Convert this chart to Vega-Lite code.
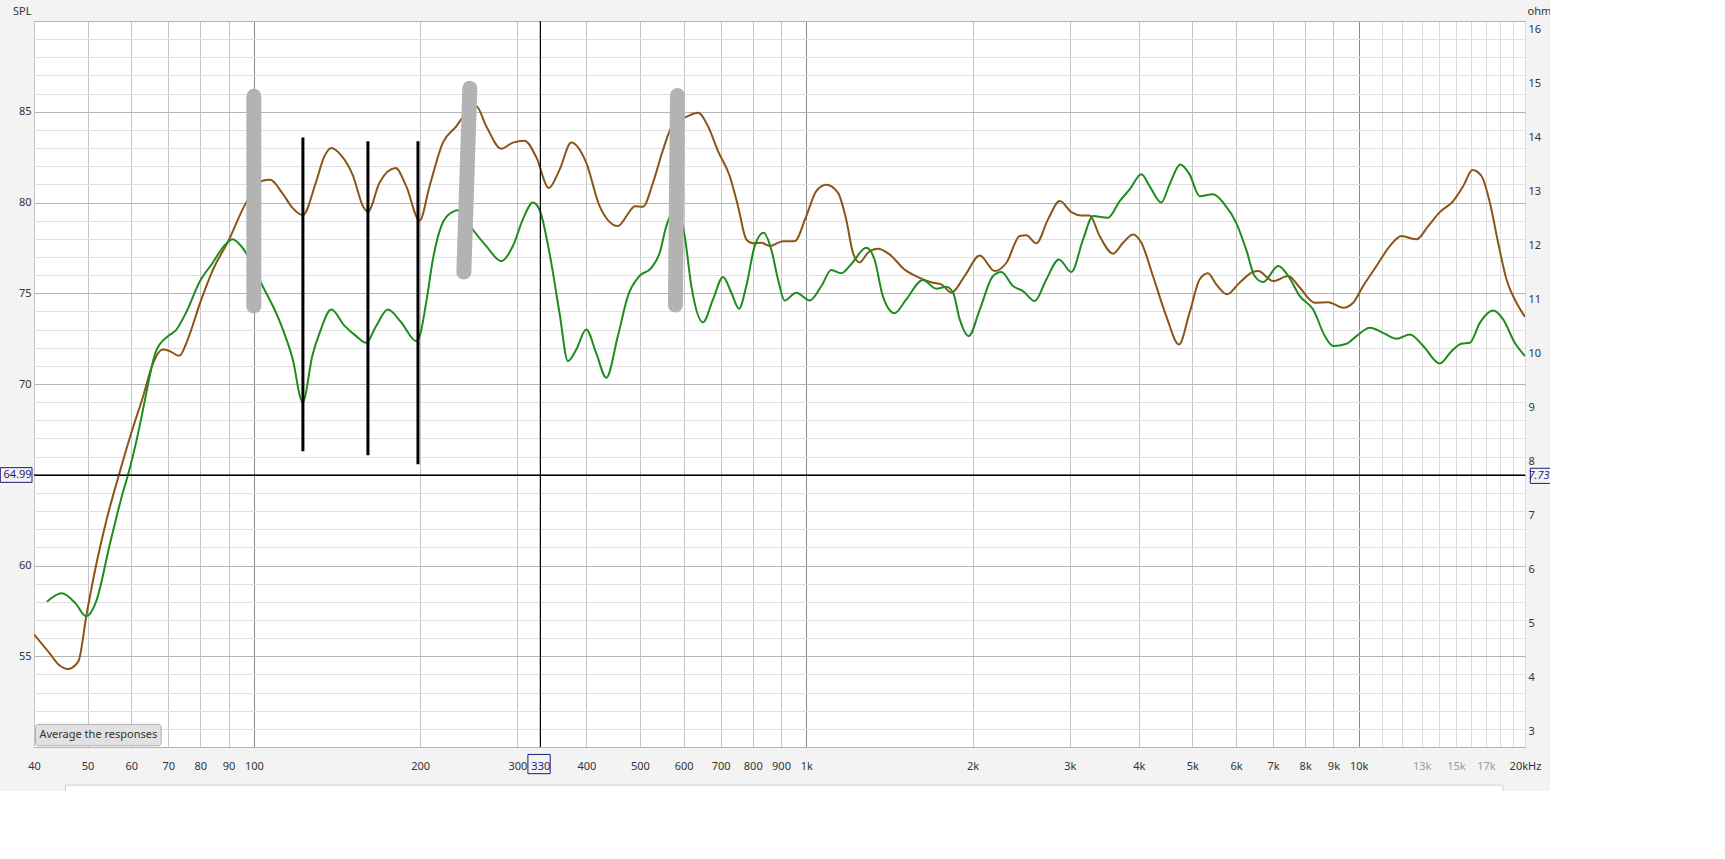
{
  "$schema": "https://vega.github.io/schema/vega-lite/v6.json",
  "width": 1491,
  "height": 726,
  "autosize": {"type": "none"},
  "padding": {"left": 34, "top": 21, "right": 25, "bottom": 44},
  "background": "#f3f3f3",
  "config": {
    "font": "Noto Sans",
    "view": {"stroke": "#a0a0a0", "fill": "#ffffff"},
    "axis": {"labelFont": "Noto Sans", "labelFontSize": 11, "labelColor": "#333333", "titleFont": "Noto Sans", "titleFontSize": 11, "titleFontWeight": "normal", "titleColor": "#333333", "ticks": false, "tickSize": 0, "domain": false}
  },
  "datasets": {
    "curves": [
      {"series":"A","f":40,"spl":56.2},{"series":"A","f":42.6,"spl":55.2},{"series":"A","f":44.3,"spl":54.55},{"series":"A","f":46.1,"spl":54.3},{"series":"A","f":48.1,"spl":54.7},{"series":"A","f":49.8,"spl":57.3},{"series":"A","f":51.8,"spl":60.0},{"series":"A","f":54.0,"spl":62.4},{"series":"A","f":57.0,"spl":65.0},{"series":"A","f":60.0,"spl":67.3},{"series":"A","f":63.0,"spl":69.3},{"series":"A","f":65.6,"spl":71.1},{"series":"A","f":68.4,"spl":71.9},{"series":"A","f":70.0,"spl":71.85},{"series":"A","f":73.3,"spl":71.55},{"series":"A","f":75.9,"spl":72.45},{"series":"A","f":80,"spl":74.5},{"series":"A","f":84.2,"spl":76.25},{"series":"A","f":90,"spl":77.9},{"series":"A","f":96.1,"spl":79.8},{"series":"A","f":103.7,"spl":81.2},{"series":"A","f":107,"spl":81.25},{"series":"A","f":112.7,"spl":80.5},{"series":"A","f":117.5,"spl":79.7},{"series":"A","f":122.6,"spl":79.3},{"series":"A","f":129.5,"spl":81.1},{"series":"A","f":134,"spl":82.5},{"series":"A","f":138.1,"spl":83.0},{"series":"A","f":143.9,"spl":82.6},{"series":"A","f":151.1,"spl":81.5},{"series":"A","f":157.6,"spl":79.8},{"series":"A","f":160.9,"spl":79.5},{"series":"A","f":168.9,"spl":81.1},{"series":"A","f":180.6,"spl":81.9},{"series":"A","f":188.7,"spl":80.9},{"series":"A","f":199.6,"spl":79.0},{"series":"A","f":208,"spl":80.9},{"series":"A","f":219.9,"spl":83.3},{"series":"A","f":232.5,"spl":84.2},{"series":"A","f":242.4,"spl":84.95},{"series":"A","f":252.7,"spl":85.3},{"series":"A","f":263.5,"spl":84.2},{"series":"A","f":280.5,"spl":82.96},{"series":"A","f":294.4,"spl":83.3},{"series":"A","f":309,"spl":83.4},{"series":"A","f":324.5,"spl":82.5},{"series":"A","f":342,"spl":80.8},{"series":"A","f":357.6,"spl":81.8},{"series":"A","f":375.5,"spl":83.3},{"series":"A","f":399.6,"spl":82.2},{"series":"A","f":422.6,"spl":79.8},{"series":"A","f":456,"spl":78.7},{"series":"A","f":478.8,"spl":79.5},{"series":"A","f":489,"spl":79.8},{"series":"A","f":506.3,"spl":79.77},{"series":"A","f":528,"spl":81.1},{"series":"A","f":550.4,"spl":82.9},{"series":"A","f":573.8,"spl":84.3},{"series":"A","f":606.6,"spl":84.72},{"series":"A","f":636.8,"spl":84.94},{"series":"A","f":663.9,"spl":84.2},{"series":"A","f":692.2,"spl":82.83},{"series":"A","f":726.7,"spl":81.46},{"series":"A","f":752.4,"spl":79.8},{"series":"A","f":778.9,"spl":77.97},{"series":"A","f":800.8,"spl":77.75},{"series":"A","f":829.2,"spl":77.78},{"series":"A","f":858.6,"spl":77.6},{"series":"A","f":907.6,"spl":77.87},{"series":"A","f":952.5,"spl":77.87},{"series":"A","f":1000,"spl":79.25},{"series":"A","f":1042.6,"spl":80.63},{"series":"A","f":1087,"spl":80.98},{"series":"A","f":1141,"spl":80.54},{"series":"A","f":1181,"spl":79.07},{"series":"A","f":1215,"spl":77.23},{"series":"A","f":1249,"spl":76.7},{"series":"A","f":1293,"spl":77.23},{"series":"A","f":1348,"spl":77.45},{"series":"A","f":1415,"spl":77.14},{"series":"A","f":1507,"spl":76.3},{"series":"A","f":1604,"spl":75.85},{"series":"A","f":1696,"spl":75.58},{"series":"A","f":1756,"spl":75.49},{"series":"A","f":1831,"spl":75.03},{"series":"A","f":1935,"spl":75.95},{"series":"A","f":2061,"spl":77.08},{"series":"A","f":2193,"spl":76.22},{"series":"A","f":2303,"spl":76.68},{"series":"A","f":2434,"spl":78.15},{"series":"A","f":2502,"spl":78.19},{"series":"A","f":2609,"spl":77.75},{"series":"A","f":2739,"spl":79.07},{"series":"A","f":2876,"spl":80.08},{"series":"A","f":3019,"spl":79.47},{"series":"A","f":3148,"spl":79.29},{"series":"A","f":3258,"spl":79.29},{"series":"A","f":3397,"spl":78.15},{"series":"A","f":3592,"spl":77.18},{"series":"A","f":3745,"spl":77.78},{"series":"A","f":3904,"spl":78.24},{"series":"A","f":4042,"spl":77.78},{"series":"A","f":4242,"spl":75.95},{"series":"A","f":4484,"spl":73.74},{"series":"A","f":4727,"spl":72.18},{"series":"A","f":4942,"spl":73.93},{"series":"A","f":5152,"spl":75.76},{"series":"A","f":5334,"spl":76.1},{"series":"A","f":5523,"spl":75.49},{"series":"A","f":5774,"spl":74.94},{"series":"A","f":6086,"spl":75.58},{"series":"A","f":6434,"spl":76.17},{"series":"A","f":6577,"spl":76.22},{"series":"A","f":7000,"spl":75.67},{"series":"A","f":7454,"spl":75.95},{"series":"A","f":7824,"spl":75.3},{"series":"A","f":8329,"spl":74.48},{"series":"A","f":8805,"spl":74.51},{"series":"A","f":9374,"spl":74.2},{"series":"A","f":9772,"spl":74.48},{"series":"A","f":10188,"spl":75.4},{"series":"A","f":10770,"spl":76.5},{"series":"A","f":11386,"spl":77.6},{"series":"A","f":11954,"spl":78.15},{"series":"A","f":12725,"spl":77.97},{"series":"A","f":13358,"spl":78.7},{"series":"A","f":14023,"spl":79.47},{"series":"A","f":14825,"spl":80.08},{"series":"A","f":15455,"spl":80.9},{"series":"A","f":16069,"spl":81.79},{"series":"A","f":16683,"spl":81.46},{"series":"A","f":17273,"spl":80.0},{"series":"A","f":17883,"spl":77.78},{"series":"A","f":18515,"spl":75.76},{"series":"A","f":19302,"spl":74.48},{"series":"A","f":20000,"spl":73.7},
      {"series":"B","f":42.2,"spl":58.0},{"series":"B","f":44.9,"spl":58.47},{"series":"B","f":47.6,"spl":57.9},{"series":"B","f":49.7,"spl":57.2},{"series":"B","f":51.8,"spl":58.0},{"series":"B","f":54.9,"spl":61.2},{"series":"B","f":57.9,"spl":64.0},{"series":"B","f":59.2,"spl":65.0},{"series":"B","f":62.1,"spl":67.65},{"series":"B","f":63.2,"spl":68.8},{"series":"B","f":66.5,"spl":71.8},{"series":"B","f":70.0,"spl":72.65},{"series":"B","f":72.3,"spl":72.97},{"series":"B","f":75.3,"spl":73.9},{"series":"B","f":80,"spl":75.7},{"series":"B","f":84.2,"spl":76.67},{"series":"B","f":87.8,"spl":77.5},{"series":"B","f":91.5,"spl":77.97},{"series":"B","f":95.4,"spl":77.5},{"series":"B","f":103.7,"spl":75.4},{"series":"B","f":111.2,"spl":73.5},{"series":"B","f":117.5,"spl":71.4},{"series":"B","f":122.6,"spl":69.0},{"series":"B","f":127.7,"spl":71.6},{"series":"B","f":131.5,"spl":72.8},{"series":"B","f":138.1,"spl":74.1},{"series":"B","f":146,"spl":73.2},{"series":"B","f":153.2,"spl":72.64},{"series":"B","f":159.7,"spl":72.27},{"series":"B","f":166.5,"spl":73.2},{"series":"B","f":174.8,"spl":74.1},{"series":"B","f":184.8,"spl":73.4},{"series":"B","f":196.8,"spl":72.36},{"series":"B","f":199.6,"spl":72.64},{"series":"B","f":205.1,"spl":74.48},{"series":"B","f":210.9,"spl":76.86},{"series":"B","f":218.4,"spl":78.7},{"series":"B","f":227.7,"spl":79.44},{"series":"B","f":235.7,"spl":79.58},{"series":"B","f":249.2,"spl":78.5},{"series":"B","f":263.5,"spl":77.6},{"series":"B","f":280.5,"spl":76.77},{"series":"B","f":294.4,"spl":77.6},{"series":"B","f":306.9,"spl":79.07},{"series":"B","f":320,"spl":80.0},{"series":"B","f":329,"spl":79.6},{"series":"B","f":343,"spl":77.2},{"series":"B","f":357.6,"spl":73.9},{"series":"B","f":370.3,"spl":71.26},{"series":"B","f":383.4,"spl":71.9},{"series":"B","f":399.6,"spl":73.0},{"series":"B","f":416.7,"spl":71.7},{"series":"B","f":434.5,"spl":70.34},{"series":"B","f":456,"spl":72.64},{"series":"B","f":475.4,"spl":74.84},{"series":"B","f":499,"spl":75.95},{"series":"B","f":524.3,"spl":76.4},{"series":"B","f":542.8,"spl":77.23},{"series":"B","f":558,"spl":78.7},{"series":"B","f":569.8,"spl":79.4},{"series":"B","f":580,"spl":79.7},{"series":"B","f":602.4,"spl":78.15},{"series":"B","f":619.4,"spl":75.4},{"series":"B","f":650.2,"spl":73.4},{"series":"B","f":677.9,"spl":74.66},{"series":"B","f":706.8,"spl":75.9},{"series":"B","f":731.8,"spl":75.03},{"series":"B","f":755.5,"spl":74.15},{"series":"B","f":778.9,"spl":75.4},{"series":"B","f":806.4,"spl":77.6},{"series":"B","f":837.2,"spl":78.33},{"series":"B","f":864.4,"spl":77.4},{"series":"B","f":888.8,"spl":75.77},{"series":"B","f":913.7,"spl":74.6},{"series":"B","f":959.2,"spl":75.03},{"series":"B","f":1014,"spl":74.6},{"series":"B","f":1065,"spl":75.4},{"series":"B","f":1110,"spl":76.28},{"series":"B","f":1157,"spl":76.1},{"series":"B","f":1206,"spl":76.6},{"series":"B","f":1284,"spl":77.5},{"series":"B","f":1329,"spl":76.86},{"series":"B","f":1376,"spl":74.84},{"series":"B","f":1445,"spl":73.9},{"series":"B","f":1517,"spl":74.66},{"series":"B","f":1626,"spl":75.73},{"series":"B","f":1719,"spl":75.25},{"series":"B","f":1793,"spl":75.36},{"series":"B","f":1844,"spl":75.03},{"series":"B","f":1896,"spl":73.56},{"series":"B","f":1968,"spl":72.64},{"series":"B","f":2061,"spl":74.1},{"series":"B","f":2178,"spl":75.95},{"series":"B","f":2255,"spl":76.17},{"series":"B","f":2367,"spl":75.4},{"series":"B","f":2468,"spl":75.12},{"series":"B","f":2591,"spl":74.57},{"series":"B","f":2720,"spl":75.76},{"series":"B","f":2867,"spl":76.86},{"series":"B","f":3019,"spl":76.17},{"series":"B","f":3170,"spl":77.97},{"series":"B","f":3304,"spl":79.25},{"series":"B","f":3517,"spl":79.16},{"series":"B","f":3693,"spl":80.08},{"series":"B","f":3850,"spl":80.72},{"series":"B","f":4042,"spl":81.55},{"series":"B","f":4183,"spl":80.9},{"series":"B","f":4392,"spl":80.0},{"series":"B","f":4547,"spl":81.0},{"series":"B","f":4753,"spl":82.1},{"series":"B","f":4942,"spl":81.55},{"series":"B","f":5152,"spl":80.35},{"series":"B","f":5445,"spl":80.45},{"series":"B","f":5717,"spl":79.9},{"series":"B","f":6002,"spl":78.88},{"series":"B","f":6258,"spl":77.4},{"series":"B","f":6480,"spl":75.95},{"series":"B","f":6716,"spl":75.62},{"series":"B","f":7153,"spl":76.5},{"series":"B","f":7454,"spl":75.95},{"series":"B","f":7824,"spl":74.84},{"series":"B","f":8272,"spl":74.1},{"series":"B","f":8685,"spl":72.64},{"series":"B","f":8992,"spl":72.09},{"series":"B","f":9506,"spl":72.22},{"series":"B","f":9909,"spl":72.64},{"series":"B","f":10476,"spl":73.1},{"series":"B","f":11074,"spl":72.82},{"series":"B","f":11706,"spl":72.5},{"series":"B","f":12379,"spl":72.73},{"series":"B","f":13086,"spl":72.09},{"series":"B","f":14023,"spl":71.13},{"series":"B","f":14722,"spl":71.81},{"series":"B","f":15348,"spl":72.22},{"series":"B","f":15892,"spl":72.27},{"series":"B","f":16568,"spl":73.37},{"series":"B","f":17511,"spl":74.05},{"series":"B","f":18257,"spl":73.56},{"series":"B","f":19165,"spl":72.27},{"series":"B","f":20000,"spl":71.54}
    ],
    "cursor": [
      {"f": 330, "spl": 64.99}
    ],
    "highlights": [
      {"f1": 100, "f2": 100, "d1": 85.85, "d2": 74.3},
      {"f1": 246, "f2": 240, "d1": 86.3, "d2": 76.17},
      {"f1": 584.5, "f2": 579.6, "d1": 85.9, "d2": 74.35}
    ],
    "markers": [
      {"f1": 122.7, "f2": 122.7, "d1": 83.58, "d2": 66.3},
      {"f1": 160.9, "f2": 160.9, "d1": 83.37, "d2": 66.07},
      {"f1": 198.2, "f2": 198.2, "d1": 83.37, "d2": 65.58}
    ],
    "cursorboxes": [
      {"f1": 34.76, "f2": 39.67, "d1": 64.58, "d2": 65.39},
      {"f1": 313.4, "f2": 343.9, "d1": 48.53, "d2": 49.59}
    ],
    "button": [
      {"f1": 40.25, "f2": 67.96, "d1": 50.07, "d2": 51.25, "fc": 52.3, "dc": 50.66, "label": "Average the responses"}
    ],
    "trough": [
      {"f1": 45.6, "f2": 18240, "d1": 46.0, "d2": 47.9}
    ],
    "ohmbox": [
      {"f1": 20450, "f2": 24000, "o1": 7.59, "o2": 7.87}
    ]
  },
  "resolve": {"scale": {"y": "independent"}},
  "layer": [
    {
      "layer": [
        {
          "data": {"name": "curves"},
          "mark": {"type": "line", "interpolate": "monotone", "strokeWidth": 2, "clip": true},
          "encoding": {
            "x": {
              "field": "f", "type": "quantitative",
              "scale": {"type": "log", "domain": [40, 20000], "nice": false},
              "axis": {
                "values": [40,50,60,70,80,90,100,200,300,330,400,500,600,700,800,900,1000,2000,3000,4000,5000,6000,7000,8000,9000,10000,11000,12000,13000,14000,15000,16000,17000,18000,19000,20000],
                "tickCount": 200,
                "title": null,
                "grid": true,
                "labelExpr": "datum.value == 330 ? '330' : datum.value == 20000 ? '20kHz' : (datum.value > 10000 && datum.value != 13000 && datum.value != 15000 && datum.value != 17000) ? '' : datum.value >= 1000 ? (datum.value / 1000) + 'k' : '' + datum.value",
                "labelBaseline": "middle",
                "labelPadding": 19,
                "labelOverlap": false,
                "labelFlush": false,
                "labelBound": false,
                "labelColor": {"condition": [{"test": "datum.value == 330", "value": "#1c1c80"}, {"test": "datum.value == 13000 || datum.value == 15000 || datum.value == 17000", "value": "#9a9a9a"}], "value": "#333333"},
                "gridColor": {"condition": [{"test": "datum.value == 330", "value": "#000000"}, {"test": "datum.value == 100 || datum.value == 1000 || datum.value == 10000", "value": "#8a8a8a"}, {"test": "datum.value > 10000", "value": "#dadada"}], "value": "#c4c4c4"},
                "gridWidth": 1
              }
            },
            "y": {
              "field": "spl", "type": "quantitative",
              "scale": {"domain": [50, 90], "nice": false, "zero": false},
              "axis": {
                "values": [50,51,52,53,54,55,56,57,58,59,60,61,62,63,64,64.99,66,67,68,69,70,71,72,73,74,75,76,77,78,79,80,81,82,83,84,85,86,87,88,89,90],
                "tickCount": 200,
                "title": "SPL",
                "titleAngle": 0,
                "titleAlign": "right",
                "titleBaseline": "middle",
                "titleX": -3,
                "titleY": -10,
                "grid": true,
                "labelExpr": "datum.value == 64.99 ? '64.99' : (datum.value % 5 == 0 && datum.value > 50 && datum.value < 90) ? '' + datum.value : ''",
                "labelPadding": 3,
                "labelOverlap": false,
                "labelBound": false,
                "labelFlush": false,
                "labelColor": {"condition": {"test": "datum.value == 64.99", "value": "#1c1c80"}, "value": "#333333"},
                "gridColor": {"condition": [{"test": "datum.value == 64.99", "value": "#000000"}, {"test": "datum.value % 5 == 0", "value": "#b4b4b4"}], "value": "#e0e0e0"}
              }
            },
            "color": {"field": "series", "type": "nominal", "scale": {"domain": ["A", "B"], "range": ["#8a5518", "#1e8c1e"]}, "legend": null}
          }
        },
        {
          "data": {"name": "cursor"},
          "mark": {"type": "rule", "color": "#000000", "strokeWidth": 1},
          "encoding": {
            "x": {"field": "f", "type": "quantitative"}
          }
        },
        {
          "data": {"name": "cursor"},
          "mark": {"type": "rule", "color": "#000000", "strokeWidth": 1},
          "encoding": {
            "y": {"field": "spl", "type": "quantitative"}
          }
        },
        {
          "data": {"name": "highlights"},
          "mark": {"type": "rule", "color": "#b3b3b3", "strokeWidth": 15, "strokeCap": "round"},
          "encoding": {
            "x": {"field": "f1", "type": "quantitative"},
            "x2": {"field": "f2"},
            "y": {"field": "d1", "type": "quantitative"},
            "y2": {"field": "d2"}
          }
        },
        {
          "data": {"name": "markers"},
          "mark": {"type": "rule", "color": "#000000", "strokeWidth": 3},
          "encoding": {
            "x": {"field": "f1", "type": "quantitative"},
            "x2": {"field": "f2"},
            "y": {"field": "d1", "type": "quantitative"},
            "y2": {"field": "d2"}
          }
        },
        {
          "data": {"name": "cursorboxes"},
          "mark": {"type": "rect", "fill": "transparent", "stroke": "#1c1c80", "strokeWidth": 1},
          "encoding": {
            "x": {"field": "f1", "type": "quantitative"},
            "x2": {"field": "f2"},
            "y": {"field": "d1", "type": "quantitative"},
            "y2": {"field": "d2"}
          }
        },
        {
          "data": {"name": "trough"},
          "mark": {"type": "rect", "fill": "#ffffff", "stroke": "#d0d0d0", "strokeWidth": 1},
          "encoding": {
            "x": {"field": "f1", "type": "quantitative"},
            "x2": {"field": "f2"},
            "y": {"field": "d1", "type": "quantitative"},
            "y2": {"field": "d2"}
          }
        },
        {
          "data": {"name": "button"},
          "mark": {"type": "rect", "fill": "#e1e1e1", "stroke": "#adadad", "strokeWidth": 1, "cornerRadius": 3},
          "encoding": {
            "x": {"field": "f1", "type": "quantitative"},
            "x2": {"field": "f2"},
            "y": {"field": "d1", "type": "quantitative"},
            "y2": {"field": "d2"}
          }
        },
        {
          "data": {"name": "button"},
          "mark": {"type": "text", "font": "Noto Sans", "fontSize": 11, "color": "#333333", "align": "center", "baseline": "middle"},
          "encoding": {
            "x": {"field": "fc", "type": "quantitative"},
            "y": {"field": "dc", "type": "quantitative"},
            "text": {"field": "label"}
          }
        }
      ]
    },
    {
      "data": {"name": "ohmbox"},
      "mark": {"type": "rect", "fill": "transparent", "stroke": "#1c1c80", "strokeWidth": 1},
      "encoding": {
        "x": {"field": "f1", "type": "quantitative"},
        "x2": {"field": "f2"},
        "y": {
          "field": "o1", "type": "quantitative",
          "scale": {"domain": [2.71, 16.15], "nice": false, "zero": false},
          "axis": {
            "orient": "right",
            "values": [3,4,5,6,7,7.73,8,9,10,11,12,13,14,15,16],
            "tickCount": 200,
            "grid": false,
            "title": "ohm",
            "titleAngle": 0,
            "titleAlign": "left",
            "titleBaseline": "middle",
            "titleX": 2,
            "titleY": -10,
            "labelExpr": "datum.value == 7.73 ? '7.73' : '' + datum.value",
            "labelAlign": "left",
            "labelPadding": 3,
            "labelOverlap": false,
            "labelBound": false,
            "labelFlush": false,
            "labelColor": {"condition": {"test": "datum.value == 7.73", "value": "#1c1c80"}, "value": "#333333"},
            "labelFontStyle": {"condition": {"test": "datum.value == 7.73", "value": "italic"}, "value": "normal"}
          }
        },
        "y2": {"field": "o2"}
      }
    }
  ]
}
